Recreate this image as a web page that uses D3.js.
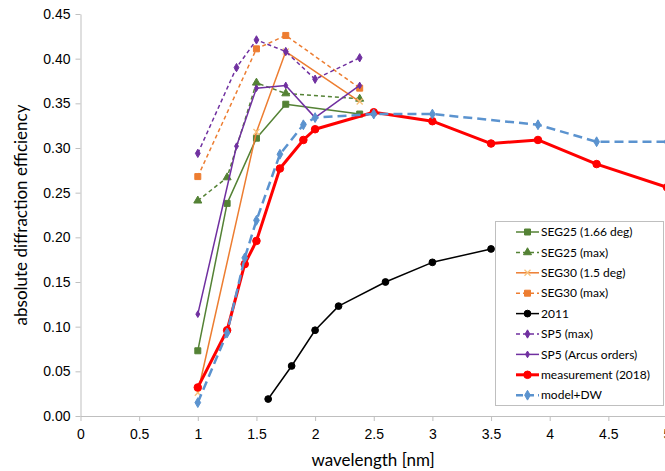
<!DOCTYPE html>
<html>
<head>
<meta charset="utf-8">
<script src="https://cdn.jsdelivr.net/npm/d3@7"></script>
<style>
  body { margin: 0; background: #fff; }
  svg { display: block; font-family: Lato, "Open Sans", sans-serif; }
</style>
</head>
<body>
<div id="chart"></div>
<script>
// wavelength [nm] / efficiency pairs
const seg25X = [1.0, 1.25, 1.5, 1.75, 2.38];
const seg25Y = [0.073, 0.238, 0.311, 0.349, 0.338];
const seg25MaxX = [1.0, 1.25, 1.5, 1.75, 2.38];
const seg25MaxY = [0.241, 0.267, 0.373, 0.361, 0.355];
const seg30X = [1.0, 1.5, 1.75, 2.38];
const seg30Y = [0.026, 0.318, 0.408, 0.352];
const seg30MaxX = [1.0, 1.5, 1.75, 2.38];
const seg30MaxY = [0.268, 0.411, 0.426, 0.367];
const y2011X = [1.6, 1.8, 2.0, 2.2, 2.6, 3.0, 3.5];
const y2011Y = [0.019, 0.056, 0.096, 0.123, 0.150, 0.172, 0.187];
const sp5MaxX = [1.0, 1.33, 1.5, 1.75, 2.0, 2.38];
const sp5MaxY = [0.294, 0.390, 0.421, 0.408, 0.377, 0.401];
const sp5ArcusX = [1.0, 1.33, 1.5, 1.75, 2.0, 2.38];
const sp5ArcusY = [0.114, 0.302, 0.367, 0.370, 0.334, 0.370];
const measX = [1.0, 1.25, 1.4, 1.5, 1.7, 1.9, 2.0, 2.5, 3.0, 3.5, 3.9, 4.4, 5.0];
const measY = [0.032, 0.096, 0.170, 0.196, 0.277, 0.309, 0.321, 0.340, 0.330, 0.305, 0.309, 0.282, 0.256];
const modelX = [1.0, 1.25, 1.4, 1.5, 1.7, 1.9, 2.0, 2.5, 3.0, 3.9, 4.4, 5.0];
const modelY = [0.015, 0.093, 0.177, 0.219, 0.293, 0.326, 0.334, 0.338, 0.338, 0.326, 0.307, 0.307];

const xTicks = [0, 0.5, 1, 1.5, 2, 2.5, 3, 3.5, 4, 4.5, 5];
const yTicks = [0, 0.05, 0.1, 0.15, 0.2, 0.25, 0.3, 0.35, 0.4, 0.45];

const series = [
  {name: "SEG25 (1.66 deg)", x: seg25X, y: seg25Y, color: "#548235", width: 1.5, dash: null, symbol: d3.symbolSquare, size: 36, fill: "#548235"},
  {name: "SEG25 (max)", x: seg25MaxX, y: seg25MaxY, color: "#548235", width: 1.5, dash: "4,3", symbol: d3.symbolTriangle, size: 28, fill: "#548235"},
  {name: "SEG30 (1.5 deg)", x: seg30X, y: seg30Y, color: "#ed7d31", width: 1.5, dash: null, symbol: "x", size: 30, fill: "#f8c27a"},
  {name: "SEG30 (max)", x: seg30MaxX, y: seg30MaxY, color: "#ed7d31", width: 1.5, dash: "4,3", symbol: d3.symbolSquare, size: 36, fill: "#ed7d31"},
  {name: "2011", x: y2011X, y: y2011Y, color: "#000000", width: 1.5, dash: null, symbol: d3.symbolCircle, size: 36, fill: "#000000"},
  {name: "SP5 (max)", x: sp5MaxX, y: sp5MaxY, color: "#7030a0", width: 1.5, dash: "4,3", symbol: d3.symbolDiamond, size: 20, fill: "#7030a0"},
  {name: "SP5 (Arcus orders)", x: sp5ArcusX, y: sp5ArcusY, color: "#7030a0", width: 1.5, dash: null, symbol: d3.symbolDiamond, size: 13, fill: "#7030a0"},
  {name: "measurement (2018)", x: measX, y: measY, color: "#ff0000", width: 3, dash: null, symbol: d3.symbolCircle, size: 45, fill: "#ff0000"},
  {name: "model+DW", x: modelX, y: modelY, color: "#5b93cf", width: 2.5, dash: "9,5", symbol: d3.symbolDiamond, size: 28, fill: "#5b93cf"}
];

const width = 665, height = 471;
const x = d3.scaleLinear([0, 5], [80.5, 667]);
const y = d3.scaleLinear([0, 0.45], [416, 14]);

const svg = d3.select("#chart").append("svg")
    .attr("width", width)
    .attr("height", height)
    .attr("viewBox", [0, 0, width, height]);

const axisColor = "#bfbfbf";

svg.append("g")
    .attr("transform", `translate(0,${y(0)})`)
    .call(d3.axisBottom(x).tickValues(xTicks).tickFormat(d => d).tickSize(5).tickSizeOuter(0))
    .call(g => g.select(".domain").attr("stroke", axisColor))
    .call(g => g.selectAll(".tick line").attr("stroke", axisColor))
    .call(g => g.selectAll(".tick text").attr("fill", "#000").attr("font-size", 14).attr("dy", "1.05em"));

svg.append("g")
    .attr("transform", `translate(${x(0)},0)`)
    .call(d3.axisLeft(y).tickValues(yTicks).tickFormat(d3.format(".2f")).tickSize(5).tickSizeOuter(0))
    .call(g => g.select(".domain").attr("stroke", axisColor))
    .call(g => g.selectAll(".tick line").attr("stroke", axisColor))
    .call(g => g.selectAll(".tick text").attr("fill", "#000").attr("font-size", 14).attr("x", -10));

svg.append("text")
    .attr("x", 373).attr("y", 466)
    .attr("text-anchor", "middle")
    .attr("font-size", 17)
    .text("wavelength [nm]");

svg.append("text")
    .attr("transform", "translate(27,215) rotate(-90)")
    .attr("text-anchor", "middle")
    .attr("font-size", 17)
    .text("absolute diffraction efficiency");

function marker(sel, s) {
  if (s.symbol === "x") {
    sel.append("path")
        .attr("d", "M-3,-3L3,3M-3,3L3,-3")
        .attr("stroke", s.fill)
        .attr("stroke-width", 1.3)
        .attr("fill", "none");
  } else {
    sel.append("path")
        .attr("d", d3.symbol(s.symbol, s.size)())
        .attr("fill", s.fill)
        .attr("stroke", s.fill);
  }
}

const line = d3.line().x(d => x(d[0])).y(d => y(d[1]));

for (const s of series) {
  const pts = d3.zip(s.x, s.y);
  const g = svg.append("g");
  g.append("path")
      .attr("d", line(pts))
      .attr("fill", "none")
      .attr("stroke", s.color)
      .attr("stroke-width", s.width)
      .attr("stroke-dasharray", s.dash)
      .attr("stroke-linejoin", "round");
  g.selectAll("g")
    .data(pts)
    .join("g")
      .attr("transform", d => `translate(${x(d[0])},${y(d[1])})`)
      .each(function() { marker(d3.select(this), s); });
}

// legend
const legend = svg.append("g");
legend.append("rect")
    .attr("x", 495.5).attr("y", 221.5)
    .attr("width", 168).attr("height", 184)
    .attr("fill", "#fff")
    .attr("stroke", "#bfbfbf");

series.forEach((s, i) => {
  const ly = 232 + i * 20.4;
  const row = legend.append("g").attr("transform", `translate(0,${ly})`);
  row.append("line")
      .attr("x1", 516).attr("x2", 539)
      .attr("stroke", s.color)
      .attr("stroke-width", s.width)
      .attr("stroke-dasharray", s.dash ? (s.width > 2 ? "7,4" : "4,3") : null);
  row.append("g")
      .attr("transform", "translate(527.5,0)")
      .call(g => marker(g, s));
  row.append("text")
      .attr("x", 541).attr("dy", "0.35em")
      .attr("font-size", 12)
      .text(s.name);
});
</script>
</body>
</html>
